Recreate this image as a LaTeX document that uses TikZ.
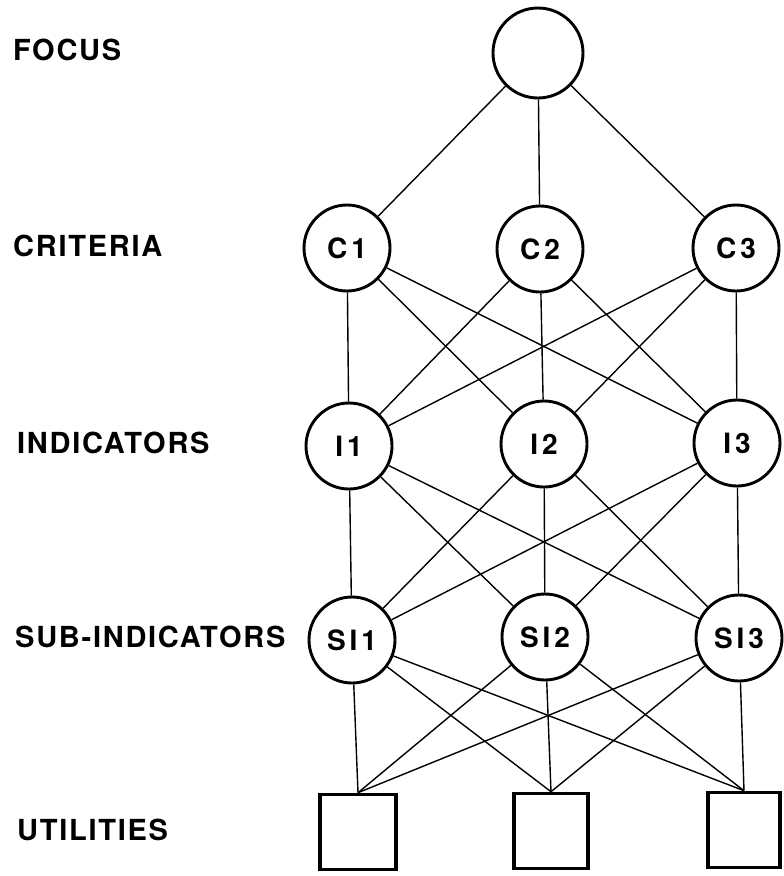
\documentclass[tikz,border=0pt]{standalone}
\usepackage{fontspec}
\setmainfont{TeX Gyre Heros}
\newfontfamily\labfont[LetterSpace=6]{TeX Gyre Heros}
\newfontfamily\nodefont[LetterSpace=14]{TeX Gyre Heros}
\begin{document}
\begin{tikzpicture}[x=1pt,y=-1pt,
  lvl/.style={circle, draw, line width=2.9pt, minimum size=86pt, inner sep=0pt,
              font=\nodefont\bfseries\fontsize{28}{28}\selectfont},
  util/.style={rectangle, draw, line width=3.6pt, minimum width=76pt, minimum height=75pt, inner sep=0pt},
  lbl/.style={anchor=west, inner sep=0pt, font=\labfont\bfseries\fontsize{29}{29}\selectfont},
  edge/.style={line width=1.4pt}]
\useasboundingbox (0,0) rectangle (784,876);
% row labels
\node[lbl] (lf) at (13,50) {FOCUS};
\node[lbl] (lc) at (13,246) {CRITERIA};
\node[lbl] (li) at (17,443) {INDICATORS};
\node[lbl] (ls) at (15,637) {SUB-INDICATORS};
\node[lbl] (lu) at (17,830) {UTILITIES};
% nodes
\node[lvl, minimum size=90pt] (f) at (538,53) {};
\node[lvl] (c1) at (347,248) {C1};
\node[lvl] (c2) at (540,249) {C2};
\node[lvl] (c3) at (736,248) {C3};
\node[lvl] (i1) at (349,446) {I1};
\node[lvl] (i2) at (544,444) {I2};
\node[lvl] (i3) at (737,443) {I3};
\node[lvl] (s1) at (352,640) {SI1};
\node[lvl] (s2) at (545,637) {SI2};
\node[lvl] (s3) at (739,638) {SI3};
\node[util] (u1) at (358,832) {};
\node[util, minimum width=74pt] (u2) at (551,831) {};
\node[util, minimum width=72pt] (u3) at (744,830) {};
% connectors
\foreach \c in {c1,c2,c3} \draw[edge] (f) -- (\c);
\foreach \c in {c1,c2,c3} \foreach \i in {i1,i2,i3} \draw[edge] (\c) -- (\i);
\foreach \i in {i1,i2,i3} \foreach \s in {s1,s2,s3} \draw[edge] (\i) -- (\s);
\foreach \s in {s1,s2,s3} \foreach \u in {u1,u2,u3} \draw[edge] (\s) -- (\u.north);
\end{tikzpicture}
\end{document}
